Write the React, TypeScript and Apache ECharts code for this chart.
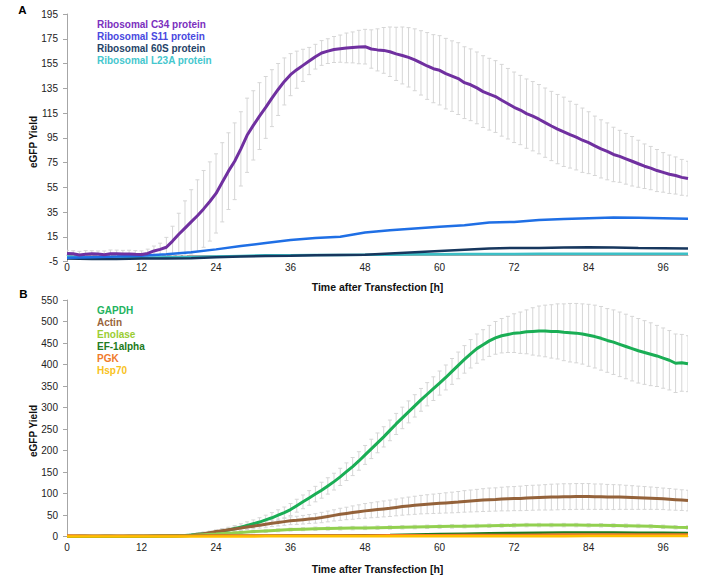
import React, { useEffect, useRef } from 'react';
import * as echarts from 'echarts';

// ---------- axes / ticks ----------
const X_TICKS = [0, 12, 24, 36, 48, 60, 72, 84, 96];
const Y_TICKS_A = [-5, 15, 35, 55, 75, 95, 115, 135, 155, 175, 195];
const Y_TICKS_B = [0, 50, 100, 150, 200, 250, 300, 350, 400, 450, 500, 550];

// sampling hours
const HOURS_1 = Array.from({ length: 101 }, (_, i) => i); // every hour
const HOURS_2 = Array.from({ length: 51 }, (_, i) => i * 2); // every 2 h
const HOURS_4 = Array.from({ length: 26 }, (_, i) => i * 4); // every 4 h

// ---------- panel A ----------
const C34 = [
  1.5, 1.2, 0.2, 0.8, 1.2, 1.0, 0.5, 1.3, 1.2, 1.0,
  1.1, 0.8, 0.6, 1.5, 3.5, 4.8, 6.5, 11.5, 17, 22,
  27, 32, 37.5, 43.5, 50, 59, 68, 76, 86, 97,
  105, 112.5, 119.5, 127, 134, 140.5, 146, 150, 153.5, 157,
  160.5, 163.5, 165, 166.3, 167, 167.6, 168, 168.3, 168.6, 166.7,
  166, 165.6, 164.5, 162.8, 161.5, 160, 158, 155.5, 153, 150.8,
  149.5, 146.8, 144.8, 142.8, 139.5, 137.8, 135.3, 132.3, 130.2, 128.3,
  125.3, 122.5, 119.6, 117.4, 114.5, 112.4, 110, 107.2, 104.5, 102,
  99.8, 97.5, 95.5, 93, 91, 88.5, 86, 84, 81.5, 80,
  78, 76, 74, 72, 70.5, 68.5, 67, 65.5, 64.5, 63,
  62,
];
const C34_ERR = [
  2.5, 2.5, 3, 3, 2.5, 2.5, 3, 3, 3, 3,
  3, 3, 3, 3.5, 4, 5, 8, 12, 17, 22,
  26, 29, 31, 32, 32, 32, 31, 31, 30, 30,
  28, 27, 25, 23, 21, 19, 17, 15, 13, 11,
  10, 10, 10, 10.5, 11, 12, 12.5, 13.5, 14, 15.5,
  17, 18.5, 20, 21.5, 23, 24, 25, 26, 27, 27.5,
  28, 28.5, 28.5, 29, 29, 29, 29, 29, 29, 29,
  29, 28.5, 28.5, 28, 28, 28, 28, 28, 28, 28,
  28, 27, 26.5, 26, 25, 24, 23.5, 23, 22, 21,
  20.5, 20, 19, 18, 17.5, 17, 16, 15.5, 15, 14.5,
  14,
];
const S11 = [-2, -1.5, -1, -0.3, 0.8, 2.5, 4.8, 7.5, 10, 12.3, 14, 15, 18.5, 20.3, 21.7, 23, 24.3, 26.5, 27, 28.5, 29.3, 30, 30.5, 30.3, 30, 29.5];
const R60S = [-2.5, -3, -3, -2.5, -2.5, -2.3, -1.5, -1, -0.5, -0.3, 0, 0.3, 0.5, 1.5, 2.5, 3.5, 4.5, 5.5, 6, 6, 6.3, 6.5, 6.3, 6, 5.8, 5.5];
const L23A = [-1, -2, -2.5, -2, -1.5, -1.5, -1, -0.5, 0, 0, 0.3, 0.3, 0.5, 0.5, 0.8, 0.8, 1, 1, 1, 1.2, 1.2, 1.3, 1.3, 1.3, 1.3, 1.3];

// ---------- panel B ----------
const GAPDH = [
  1, 1, 1.5, 1.5, 1, 1, 1.5, 1.5, 1, 1,
  1.5, 1.5, 1.5, 1.5, 2, 2, 2, 2, 2.5, 3,
  4, 5.5, 7, 8.5, 10.5, 13, 15.5, 19, 22, 26,
  30, 34, 39, 44, 50, 56, 63, 72, 81, 90,
  99, 108, 118, 128, 139, 151, 163, 176, 190, 204,
  218, 232, 247, 262, 276, 290, 304, 318, 331, 344,
  357, 370, 384, 398, 412, 425, 437, 446, 455, 462,
  467, 470, 473, 474, 476, 477, 478, 478, 477, 477,
  475, 474, 473, 471, 468, 465, 461, 456, 452, 447,
  442, 437, 432, 428, 424, 420, 415, 410, 403, 404,
  402,
];
const GAPDH_ERR = [
  1, 1, 1, 1, 1, 1, 1, 1, 1, 1,
  1, 1, 1, 1, 1, 1, 1, 1, 1, 2,
  3, 3.5, 4, 4.5, 5, 6, 6.5, 7, 8, 8.5,
  9, 10, 11, 12, 12.5, 13, 14, 15, 16, 17,
  18, 18.5, 19, 19.5, 20, 20.5, 21, 21.5, 22, 22.5,
  23, 23.5, 24, 24.5, 25, 25.5, 26, 26.5, 27, 27.5,
  28, 29, 30, 31, 32, 33, 34, 35, 36, 38,
  40, 42, 45, 48, 51, 55, 58, 60, 62, 64,
  66, 68, 69, 70, 72, 73, 74, 74, 75, 75,
  75, 75, 75, 74, 73, 71, 70, 69, 68, 66,
  65,
];
const ACTIN = [
  1, 1, 1, 1, 1, 1, 1, 1, 1, 1,
  1, 1, 1, 1, 1, 1.5, 1.5, 1.5, 1.5, 2,
  3, 5, 7, 9.5, 12, 14, 16, 18, 20, 22.5,
  24.5, 26.5, 29, 31, 33, 35, 37, 38, 39.5, 41,
  42.5, 44.5, 47, 49.5, 52, 54, 56, 58, 60, 61.5,
  63, 64.5, 66, 68, 70, 71.5, 73, 74.5, 75.5, 76.5,
  77.5, 78.5, 79.5, 80.5, 82, 83, 84, 85, 86, 86.5,
  87.5, 88, 88.5, 89, 90, 90.5, 91, 91.5, 92, 92.5,
  93, 93, 93.5, 93.5, 93.5, 93, 93, 92.5, 92, 92,
  91.5, 91, 90.5, 90, 89.5, 89, 88, 87, 86, 85,
  84,
];
const ACTIN_ERR = [
  0.5, 0.5, 0.5, 0.5, 0.5, 0.5, 0.5, 0.5, 0.5, 0.5,
  0.5, 0.5, 0.5, 0.5, 0.5, 0.5, 0.5, 0.5, 0.5, 1,
  1, 1.5, 2, 2.5, 3, 3.5, 4, 4.5, 5, 5.5,
  6, 6.5, 7, 7.5, 8, 8.5, 9, 9.5, 10, 10.5,
  11, 12, 12.5, 13, 14, 14.5, 15.5, 16, 17, 17.5,
  18, 18.5, 19, 19.5, 20, 20.5, 21, 21.5, 22, 22.5,
  23, 23.5, 24, 24.5, 25, 25.5, 26, 26.5, 27, 27,
  27.5, 28, 28, 28.5, 29, 29, 29, 29.5, 30, 30,
  30, 30, 30, 30, 30, 29.5, 29.5, 29, 29, 28.5,
  28, 27.5, 27, 26.5, 26, 25.5, 25, 25, 24.5, 24,
  24,
];
const ENOLASE = [
  1, 1, 1, 1, 1, 1, 1, 1, 1.5, 2,
  3, 4.5, 6, 8, 10, 12, 13.5, 15, 16.5, 17.5,
  18.5, 19, 19.5, 20, 20.5, 21, 21.5, 22, 22.5, 23,
  23.5, 24, 24.5, 25, 25.5, 26, 26.5, 27, 27, 27,
  27, 27, 26.5, 26.5, 26, 25.5, 25, 24, 23, 22,
  21.5,
];
const ENOLASE_ERR = [
  0.5, 0.5, 0.5, 0.5, 0.5, 0.5, 0.5, 0.5, 0.5, 1,
  1, 1.5, 2, 2.5, 3, 3, 3.5, 3.5, 3.5, 3.5,
  4, 4, 4, 4, 4, 4, 4, 4, 4, 4,
  4, 4, 4, 4, 4, 4, 4, 4, 4, 4,
  4, 4, 4, 4, 4, 4, 4, 4, 4, 4,
  4,
];
const EF1A = [1, 1, 1, 1, 1.5, 2, 2, 2, 2, 2.5, 3, 3, 3.5, 4, 5, 6, 7, 8, 8.5, 9, 9.5, 9.5, 9.5, 9, 9, 8.5];
const PGK = [2.5, 2, 2, 2, 2, 2, 2.5, 3, 3, 3, 3, 3, 3, 3.5, 3.5, 3.5, 4, 4, 4, 4.5, 5, 5, 5, 5, 5, 5];
const HSP70 = [0.5, 0.5, 0.5, 0.5, 0.5, 0.5, 0.5, 0.5, 0.8, 0.8, 0.8, 1, 1, 1, 1, 1, 1, 1.2, 1.2, 1.2, 1.2, 1.5, 1.5, 1.5, 1.5, 1.5];

const NAMES_A = ['Ribosomal C34 protein', 'Ribosomal S11 protein', 'Ribosomal 60S protein', 'Ribosomal L23A protein'];
const NAMES_B = ['GAPDH', 'Actin', 'Enolase', 'EF-1alpha', 'PGK', 'Hsp70'];

const FONT = "'Liberation Sans', Arial, Helvetica, sans-serif";
const ERR_COLOR = '#D6D6D6';
const AXIS_COLOR = '#A6A6A6';

function lineSeries(name: string, hours: number[], values: number[], color: string, width: number, idx: number) {
  return {
    type: 'line',
    name,
    xAxisIndex: idx,
    yAxisIndex: idx,
    data: hours.map((h, i) => [h, values[i]]),
    showSymbol: false,
    symbol: 'none',
    lineStyle: { color, width },
    itemStyle: { color },
    z: 3,
    silent: true,
  };
}

function errorSeries(name: string, hours: number[], values: number[], errs: number[], idx: number) {
  return {
    type: 'custom',
    name,
    xAxisIndex: idx,
    yAxisIndex: idx,
    data: hours.map((h, i) => [h, values[i] - errs[i], values[i] + errs[i]]),
    encode: { x: 0, y: [1, 2] },
    z: 1,
    silent: true,
    clip: true,
    renderItem: (params: any, api: any) => {
      const x = api.value(0);
      const top = api.coord([x, api.value(2)]);
      const bot = api.coord([x, api.value(1)]);
      const cap = 2;
      const style = { stroke: ERR_COLOR, lineWidth: 1, fill: null };
      return {
        type: 'group',
        children: [
          { type: 'line', shape: { x1: top[0], y1: top[1], x2: bot[0], y2: bot[1] }, style },
          { type: 'line', shape: { x1: top[0] - cap, y1: top[1], x2: top[0] + cap, y2: top[1] }, style },
          { type: 'line', shape: { x1: bot[0] - cap, y1: bot[1], x2: bot[0] + cap, y2: bot[1] }, style },
        ],
      };
    },
  };
}

function xAxis(idx: number, margin: number, nameGap: number) {
  return {
    type: 'value',
    gridIndex: idx,
    min: 0,
    max: 100,
    name: 'Time after Transfection [h]',
    nameLocation: 'middle',
    nameGap,
    nameTextStyle: { fontFamily: FONT, fontSize: 10.5, fontWeight: 'bold', color: '#111' },
    axisLine: { show: true, lineStyle: { color: AXIS_COLOR, width: 1 } },
    axisTick: { show: false },
    axisLabel: { customValues: X_TICKS, fontFamily: FONT, fontSize: 10, color: '#222', margin },
    splitLine: { show: false },
  };
}

function yAxis(idx: number, min: number, max: number, ticks: number[]) {
  return {
    type: 'value',
    gridIndex: idx,
    min,
    max,
    axisLine: { show: true, lineStyle: { color: AXIS_COLOR, width: 1 } },
    axisTick: { show: true, customValues: ticks, length: 4, lineStyle: { color: AXIS_COLOR } },
    axisLabel: { customValues: ticks, fontFamily: FONT, fontSize: 10, color: '#222', margin: 9 },
    splitLine: { show: false },
  };
}

function legend(top: number, names: string[], colors: string[]) {
  return {
    orient: 'vertical',
    left: 92,
    top,
    padding: 0,
    itemWidth: 0,
    itemHeight: 12,
    itemGap: 0,
    icon: 'rect',
    itemStyle: { opacity: 0 },
    lineStyle: { opacity: 0 },
    selectedMode: false,
    textStyle: { fontFamily: FONT, fontSize: 10, fontWeight: 'bold', lineHeight: 12 },
    data: names.map((n, i) => ({ name: n, textStyle: { color: colors[i] } })),
  };
}

function buildOption() {
  const colA = { c34: '#7030A0', s11: '#1F6FE5', r60: '#17375E', l23: '#3CBFC6' };
  const colB = { gapdh: '#1AAE55', actin: '#94623A', eno: '#92D050', ef: '#1E7A1E', pgk: '#F07A2A', hsp: '#FFC000' };
  return {
    animation: false,
    backgroundColor: '#ffffff',
    grid: [
      { left: 67, top: 14, width: 621, height: 247.5, outerBoundsMode: 'none' },
      { left: 67, top: 300, width: 621, height: 236.7, outerBoundsMode: 'none' },
    ],
    xAxis: [xAxis(0, 1, 20), xAxis(1, 6, 27)],
    yAxis: [yAxis(0, -5, 195, Y_TICKS_A), yAxis(1, 0, 550, Y_TICKS_B)],
    legend: [
      legend(18, NAMES_A, ['#7B2FBE', '#4848E0', '#1F4468', '#45C7CE']),
      legend(304.7, NAMES_B, ['#22B35E', '#98653C', '#9ACD32', '#207A20', '#F07A2A', '#F8C21C']),
    ],
    graphic: [
      { type: 'text', x: 22.5, y: 9.5, style: { text: 'A', fontFamily: FONT, fontSize: 11.5, fontWeight: 'bold', fill: '#000', align: 'center', verticalAlign: 'middle' } },
      { type: 'text', x: 23.5, y: 293.5, style: { text: 'B', fontFamily: FONT, fontSize: 11.5, fontWeight: 'bold', fill: '#000', align: 'center', verticalAlign: 'middle' } },
      { type: 'text', x: 33, y: 142, rotation: Math.PI / 2, style: { text: 'eGFP Yield', fontFamily: FONT, fontSize: 10, fontWeight: 'bold', fill: '#111', align: 'center', verticalAlign: 'middle' } },
      { type: 'text', x: 33, y: 431, rotation: Math.PI / 2, style: { text: 'eGFP Yield', fontFamily: FONT, fontSize: 10, fontWeight: 'bold', fill: '#111', align: 'center', verticalAlign: 'middle' } },
    ],
    series: [
      errorSeries('C34 error', HOURS_1, C34, C34_ERR, 0),
      lineSeries(NAMES_A[3], HOURS_4, L23A, colA.l23, 2.5, 0),
      lineSeries(NAMES_A[2], HOURS_4, R60S, colA.r60, 2.5, 0),
      lineSeries(NAMES_A[1], HOURS_4, S11, colA.s11, 2.5, 0),
      lineSeries(NAMES_A[0], HOURS_1, C34, colA.c34, 3, 0),

      errorSeries('GAPDH error', HOURS_1, GAPDH, GAPDH_ERR, 1),
      errorSeries('Actin error', HOURS_1, ACTIN, ACTIN_ERR, 1),
      errorSeries('Enolase error', HOURS_2, ENOLASE, ENOLASE_ERR, 1),
      lineSeries(NAMES_B[0], HOURS_1, GAPDH, colB.gapdh, 3, 1),
      lineSeries(NAMES_B[1], HOURS_1, ACTIN, colB.actin, 3, 1),
      lineSeries(NAMES_B[2], HOURS_2, ENOLASE, colB.eno, 3, 1),
      lineSeries(NAMES_B[3], HOURS_4, EF1A, colB.ef, 2.5, 1),
      lineSeries(NAMES_B[4], HOURS_4, PGK, colB.pgk, 2.5, 1),
      lineSeries(NAMES_B[5], HOURS_4, HSP70, colB.hsp, 2.5, 1),
    ],
  };
}

export default function App() {
  const ref = useRef<HTMLDivElement>(null);
  useEffect(() => {
    if (!ref.current) return;
    const chart = echarts.init(ref.current, undefined, { renderer: 'svg' });
    chart.setOption(buildOption() as any);
    return () => {
      chart.dispose();
    };
  }, []);
  return <div ref={ref} style={{ position: 'absolute', left: 0, top: 0, width: 704, height: 579 }} />;
}
